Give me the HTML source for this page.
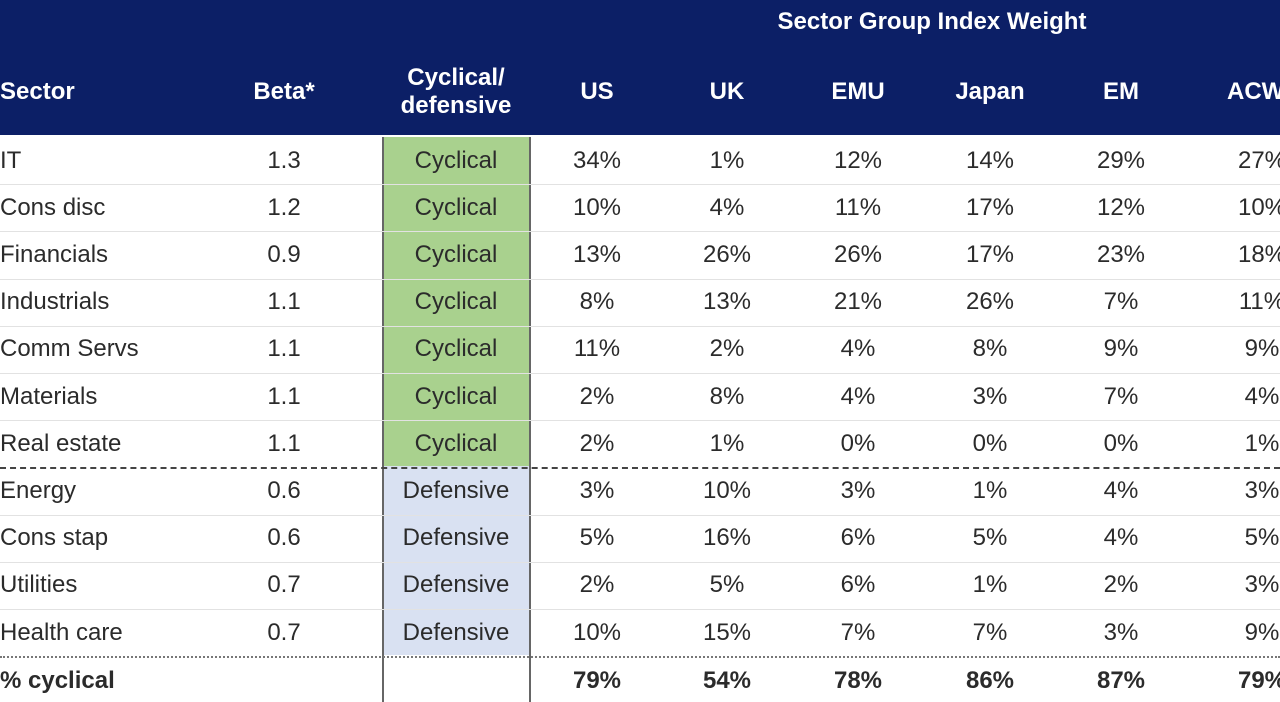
<!DOCTYPE html>
<html><head><meta charset="utf-8"><style>
body{margin:0;width:1280px;height:702px;overflow:hidden;background:#fff;font-family:"Liberation Sans","DejaVu Sans",sans-serif;position:relative}
.hdr{position:absolute;left:0;top:0;width:1280px;height:135px;background:#0c1f66}
.t{position:absolute;white-space:nowrap;transform:translate(-50%,-50%);font-size:24px;color:#2b2b2b}
.l{position:absolute;white-space:nowrap;transform:translateY(-50%);font-size:24px;color:#2b2b2b}
.h{color:#fff;font-weight:bold}
.line{position:absolute;left:0;width:1280px;height:0;border-top:1px solid #e2e2e2}
</style></head><body>
<div class="hdr"></div>
<div class="t h" style="left:932px;top:22px">Sector Group Index Weight</div>
<div class="l h" style="left:0;top:92px">Sector</div>
<div class="t h" style="left:284px;top:92px">Beta*</div>
<div class="t h" style="left:456px;top:92px;text-align:center;line-height:28px">Cyclical/<br>defensive</div>
<div class="t h" style="left:597px;top:92px">US</div>
<div class="t h" style="left:727px;top:92px">UK</div>
<div class="t h" style="left:858px;top:92px">EMU</div>
<div class="t h" style="left:990px;top:92px">Japan</div>
<div class="t h" style="left:1121px;top:92px">EM</div>
<div class="l h" style="left:1227px;top:92px">ACWI</div>
<div style="position:absolute;left:383px;top:137px;width:147px;height:329px;background:#a9d18e"></div>
<div style="position:absolute;left:383px;top:466px;width:147px;height:189px;background:#d9e1f2"></div>
<div style="position:absolute;left:382px;top:137px;width:0;height:565px;border-left:2px solid #666"></div>
<div style="position:absolute;left:529px;top:137px;width:0;height:565px;border-left:2px solid #666"></div>
<div id="rows"></div>
<script>
var d=[["IT","1.3","C","34%","1%","12%","14%","29%","27%"],["Cons disc","1.2","C","10%","4%","11%","17%","12%","10%"],["Financials","0.9","C","13%","26%","26%","17%","23%","18%"],["Industrials","1.1","C","8%","13%","21%","26%","7%","11%"],["Comm Servs","1.1","C","11%","2%","4%","8%","9%","9%"],["Materials","1.1","C","2%","8%","4%","3%","7%","4%"],["Real estate","1.1","C","2%","1%","0%","0%","0%","1%"],["Energy","0.6","D","3%","10%","3%","1%","4%","3%"],["Cons stap","0.6","D","5%","16%","6%","5%","4%","5%"],["Utilities","0.7","D","2%","5%","6%","1%","2%","3%"],["Health care","0.7","D","10%","15%","7%","7%","3%","9%"]];
var xs=[597,727,858,990,1121],h='';
for(var i=0;i<d.length;i++){var y=160.5+i*47.2;var r=d[i];
h+='<div class="l" style="left:0;top:'+y+'px">'+r[0]+'</div><div class="t" style="left:284px;top:'+y+'px">'+r[1]+'</div><div class="t" style="left:456px;top:'+y+'px">'+(r[2]=='C'?'Cyclical':'Defensive')+'</div>';
for(var j=0;j<5;j++)h+='<div class="t" style="left:'+xs[j]+'px;top:'+y+'px">'+r[3+j]+'</div>';
h+='<div class="t" style="left:1262px;top:'+y+'px;transform:translate(-50%,-50%)">'+r[8]+'</div>';
var ly=137+(i+1)*47.2;
if(i==6)h+='<div class="line" style="top:'+ly+'px;border-top:2px dashed #444"></div>';
else if(i==10)h+='<div class="line" style="top:'+ly+'px;border-top:2px dotted #777"></div>';
else h+='<div class="line" style="top:'+ly+'px"></div>';}
var y=681,tot=["79%","54%","78%","86%","87%"];
h+='<div class="l" style="left:0;top:'+y+'px;font-weight:bold">% cyclical</div>';
for(var j=0;j<5;j++)h+='<div class="t" style="left:'+xs[j]+'px;top:'+y+'px;font-weight:bold">'+tot[j]+'</div>';
h+='<div class="t" style="left:1262px;top:'+y+'px;font-weight:bold">79%</div>';
document.getElementById('rows').innerHTML=h;
</script>
</body></html>
